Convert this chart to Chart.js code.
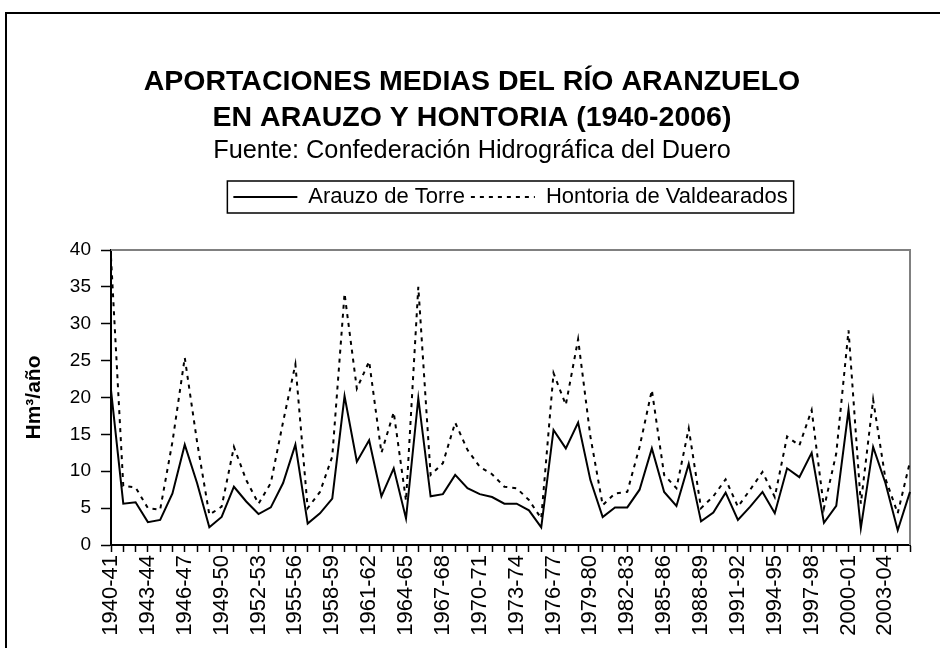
<!DOCTYPE html>
<html lang="es">
<head>
<meta charset="utf-8">
<title>Aportaciones medias del río Aranzuelo</title>
<script src="https://cdn.jsdelivr.net/npm/chart.js@4.4.1/dist/chart.umd.min.js"></script>
<style>
  html, body { margin: 0; padding: 0; background: #fff; overflow: hidden; }
  #wrap { position: relative; width: 940px; height: 648px; }
  #marco { position: absolute; left: 5px; top: 12px; width: 1000px; height: 700px;
           border-left: 2px solid #000; border-top: 2px solid #000; }
  canvas { position: absolute; left: 0; top: 0; }
</style>
</head>
<body>
<div id="wrap">
  <div id="marco"></div>
  <canvas id="grafico" width="940" height="648"></canvas>
</div>
<script>
// años hidrológicos
const campanas = [
    '1940-41', '1941-42', '1942-43', '1943-44', '1944-45', '1945-46', '1946-47', '1947-48', '1948-49', '1949-50',
    '1950-51', '1951-52', '1952-53', '1953-54', '1954-55', '1955-56', '1956-57', '1957-58', '1958-59', '1959-60',
    '1960-61', '1961-62', '1962-63', '1963-64', '1964-65', '1965-66', '1966-67', '1967-68', '1968-69', '1969-70',
    '1970-71', '1971-72', '1972-73', '1973-74', '1974-75', '1975-76', '1976-77', '1977-78', '1978-79', '1979-80',
    '1980-81', '1981-82', '1982-83', '1983-84', '1984-85', '1985-86', '1986-87', '1987-88', '1988-89', '1989-90',
    '1990-91', '1991-92', '1992-93', '1993-94', '1994-95', '1995-96', '1996-97', '1997-98', '1998-99', '1999-00',
    '2000-01', '2001-02', '2002-03', '2003-04', '2004-05', '2005-06'
];

// Hm3/año
const arauzo = [
    21.0, 5.6, 5.8, 3.1, 3.4, 7.0, 13.6, 8.4, 2.4, 3.8,
    7.9, 5.9, 4.2, 5.1, 8.4, 13.6, 2.9, 4.3, 6.3, 20.2,
    11.3, 14.2, 6.6, 10.4, 3.6, 19.9, 6.6, 6.9, 9.5, 7.7,
    6.9, 6.5, 5.6, 5.6, 4.7, 2.4, 15.6, 13.1, 16.6, 8.8,
    3.8, 5.1, 5.1, 7.5, 13.1, 7.2, 5.3, 11.0, 3.2, 4.4,
    7.1, 3.4, 5.2, 7.2, 4.3, 10.4, 9.2, 12.5, 3.0, 5.3,
    18.3, 2.3, 13.3, 8.4, 2.0, 7.2
];

const hontoria = [
    39.0, 8.0, 7.8, 5.0, 4.8, 14.0, 25.4, 14.0, 4.1, 5.2,
    13.3, 8.8, 5.6, 8.4, 16.7, 24.5, 5.0, 7.2, 12.0, 34.1,
    21.2, 24.9, 12.5, 18.0, 6.0, 35.0, 9.5, 11.1, 16.6, 12.9,
    10.6, 9.6, 7.9, 7.7, 6.1, 3.6, 23.3, 19.0, 27.9, 14.7,
    5.4, 7.0, 7.2, 13.3, 21.0, 9.5, 7.7, 15.8, 5.0, 6.6,
    8.9, 5.2, 7.5, 9.9, 6.5, 14.7, 13.5, 18.3, 5.0, 12.4,
    29.1, 5.6, 19.7, 9.0, 4.3, 11.3
];

const titulo = ['APORTACIONES MEDIAS DEL RÍO ARANZUELO', 'EN ARAUZO Y HONTORIA (1940-2006)'];
const fuente = 'Fuente: Confederación Hidrográfica del Duero';
const trazos = [[], [4, 5]];

Chart.defaults.font.family = "'Liberation Sans', Arial, sans-serif";
Chart.defaults.color = '#000';

// borde gris del área de trazado y recuadro de la leyenda
const marcoPlugin = {
    id: 'marco',
    beforeDatasetsDraw(chart) {
        const { ctx, chartArea: a } = chart;
        ctx.save();
        ctx.strokeStyle = '#808080';
        ctx.lineWidth = 2;
        ctx.beginPath();
        ctx.moveTo(a.left, a.top);
        ctx.lineTo(a.right, a.top);
        ctx.lineTo(a.right, a.bottom);
        ctx.stroke();
        ctx.restore();
    },
    afterDraw(chart) {
        const cajas = chart.legend.legendHitBoxes;
        if (!cajas || !cajas.length) return;
        const izq = Math.min(...cajas.map(c => c.left)) - 6;
        const der = Math.max(...cajas.map(c => c.left + c.width)) + 6;
        const arr = cajas[0].top - 5;
        const aba = cajas[0].top + cajas[0].height + 5;
        const ctx = chart.ctx;
        ctx.save();
        ctx.strokeStyle = '#000';
        ctx.lineWidth = 1.5;
        ctx.strokeRect(izq, arr, der - izq, aba - arr);
        ctx.restore();
    }
};

const ctx = document.getElementById('grafico').getContext('2d');
const grafico = new Chart(ctx, {
    type: 'line',
    data: {
        labels: campanas,
        datasets: [{
            label: 'Arauzo de Torre',
            data: arauzo,
            borderColor: '#000',
            backgroundColor: '#000',
            borderWidth: 2,
            borderDash: trazos[0],
            pointRadius: 0,
            tension: 0,
            fill: false
        }, {
            label: 'Hontoria de Valdearados',
            data: hontoria,
            borderColor: '#000',
            backgroundColor: '#000',
            borderWidth: 2,
            borderDash: trazos[1],
            pointRadius: 0,
            tension: 0,
            fill: false
        }]
    },
    options: {
        responsive: false,
        animation: false,
        layout: { padding: { top: 0, left: 4, right: 0, bottom: 0 } },
        plugins: {
            title: {
                display: true,
                text: titulo,
                font: { size: 28.5, weight: 'bold', lineHeight: 36 / 28.5 },
                padding: { top: 64, bottom: 0 }
            },
            subtitle: {
                display: true,
                text: fuente,
                font: { size: 25.3, lineHeight: 28.2 / 25.3 },
                padding: { top: 1, bottom: 14.8 }
            },
            legend: {
                display: true,
                position: 'top',
                fullSize: false,
                labels: {
                    font: { size: 22 },
                    usePointStyle: true,
                    pointStyle: 'line',
                    pointStyleWidth: 64,
                    padding: 6,
                    color: '#000',
                    generateLabels(chart) {
                        const items = Chart.defaults.plugins.legend.labels.generateLabels(chart);
                        items.forEach((it, i) => {
                            it.lineDash = trazos[i];
                            it.lineWidth = 2;
                            it.strokeStyle = '#000';
                        });
                        return items;
                    }
                }
            },
            tooltip: { enabled: false }
        },
        scales: {
            x: {
                type: 'category',
                position: 'bottom',
                afterFit: s => { s.height = 103; },
                grid: { drawOnChartArea: false, drawTicks: true, tickLength: 7, tickColor: '#000', tickWidth: 1.5 },
                border: { display: true, color: '#000', width: 2 },
                ticks: {
                    autoSkip: false,
                    minRotation: 90,
                    maxRotation: 90,
                    padding: 3,
                    font: { size: 22 },
                    callback: function (value, index) {
                        return index % 3 === 0 ? this.getLabelForValue(value) : '';
                    }
                }
            },
            huecoArriba: {
                type: 'category',
                position: 'top',
                afterFit: s => { s.height = 32; },
                grid: { display: false },
                border: { display: false },
                ticks: { display: false }
            },
            huecoDerecha: {
                type: 'linear',
                position: 'right',
                afterFit: s => { s.width = 30; },
                grid: { display: false },
                border: { display: false },
                ticks: { display: false }
            },
            y: {
                min: 0,
                max: 40,
                afterFit: s => { s.width = 107; },
                grid: { drawOnChartArea: false, drawTicks: true, tickLength: 10, tickColor: '#000', tickWidth: 1.5 },
                border: { display: true, color: '#000', width: 2 },
                ticks: { stepSize: 5, padding: 10, font: { size: 19 } },
                title: {
                    display: true,
                    text: 'Hm³/año',
                    font: { size: 21, weight: 'bold', lineHeight: 1.2 },
                    padding: { top: 18, bottom: 0 }
                }
            }
        }
    },
    plugins: [marcoPlugin]
});
</script>
</body>
</html>
